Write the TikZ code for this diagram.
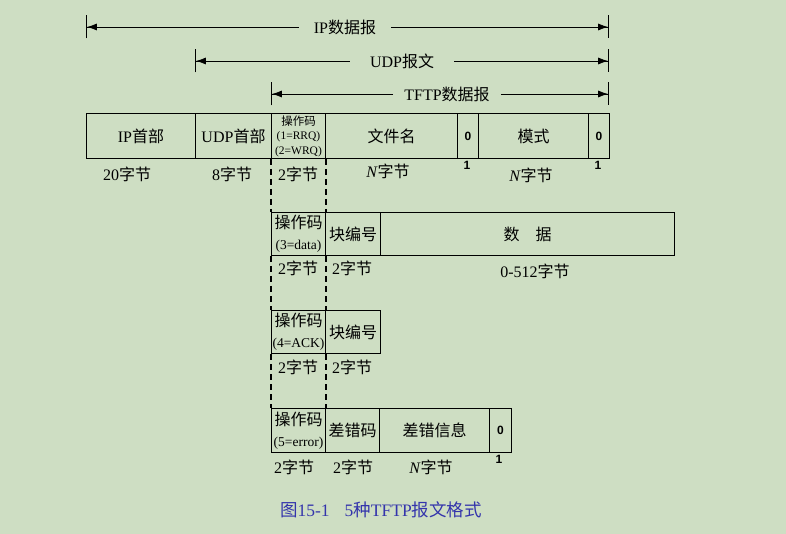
\documentclass[tikz,border=0pt]{standalone}
\usepackage{fontspec}
\setmainfont{Liberation Serif}
\newfontfamily\cjkfont{Noto Sans CJK SC}
\newfontfamily\digitfont{Liberation Sans}
\usetikzlibrary{arrows.meta}
\definecolor{bgcol}{RGB}{206,222,195}
\definecolor{capcol}{RGB}{52,52,172}
\newcommand{\zh}[1]{{\cjkfont #1}}

\begin{document}
\begin{tikzpicture}[x=1pt, y=-1pt,
	every node/.style={inner sep=0pt, font=\fontsize{16}{18}\selectfont},
	field/.style={draw=black, line width=1pt, rectangle, anchor=north west},
	row/.style={minimum height=#1},
	size/.style={anchor=center},
	zero/.style={font=\digitfont\bfseries\fontsize{12}{14}\selectfont},
	one/.style={font=\digitfont\bfseries\fontsize{12}{14}\selectfont},
	opbig/.style={align=center, font=\fontsize{16}{21}\selectfont},
	dimlbl/.style={inner xsep=15pt},
	dimline/.style={line width=0.8pt, -{Latex[length=10pt,width=7pt]Bar[width=23pt,line width=0.9pt]}},
	guide/.style={line width=1.1pt, dash pattern=on 6pt off 4pt}]
				\fill[bgcol] (0,0) rectangle (786,534);
				\useasboundingbox (0,0) rectangle (786,534);
				
				% dimension arrows
				\coordinate (ipL) at (86,27);
				\coordinate (ipR) at (609,27);
				\coordinate (udpL) at (195,61);
				\coordinate (udpR) at (609,61);
				\coordinate (tftpL) at (271,94);
				\coordinate (tftpR) at (609,94);
				\node[dimlbl, inner xsep=15pt] (iplbl) at (345,27){IP\zh{数据报}};
				\node[dimlbl, inner xsep=20pt] (udplbl) at (402,61){UDP\zh{报文}};
				\node[dimlbl, inner xsep=11pt] (tftplbl) at (447,94){TFTP\zh{数据报}};
				\path[dimline] (iplbl) edge (ipL);
				\path[dimline] (iplbl) edge (ipR);
				\path[dimline] (udplbl) edge (udpL);
				\path[dimline] (udplbl) edge (udpR);
				\path[dimline] (tftplbl) edge (tftpL);
				\path[dimline] (tftplbl) edge (tftpR);
				
				% RRQ / WRQ
				\node[field, row=45, minimum width=109] (ip) at (86,113){IP\zh{首部}};
				\node[field, row=45, minimum width=76] (udp) at (195,113){UDP\zh{首部}};
				\node[field, row=45, minimum width=54, align=center, font=\fontsize{11.5}{14.5}\selectfont] (op1) at (271,113){\zh{操作码}\\(1=RRQ)\\(2=WRQ)};
				\node[field, row=45, minimum width=132] (fname) at (325,113){\zh{文件名}};
				\node[field, row=45, minimum width=21, zero] (zA) at (457,113){0};
				\node[field, row=45, minimum width=110] (mode) at (478,113){\zh{模式}};
				\node[field, row=45, minimum width=21, zero] (zB) at (588,113){0};
				
				\node[size] (sip) at (127,174){20\zh{字节}};
				\node[size] (sudp) at (232,174){8\zh{字节}};
				\node[size] (sop1) at (298,174){2\zh{字节}};
				\node[size] (sfname) at (388,171){\textit{N}\zh{字节}};
				\node[size] (smode) at (531,175){\textit{N}\zh{字节}};
				\node[one] (oA) at (467,165){1};
				\node[one] (oB) at (598,165){1};
				
				% DATA
				\node[field, row=43, minimum width=54, opbig] (op2) at (271,212){\zh{操作码}\\{\fontsize{13.5}{21}\selectfont(3=data)}};
				\node[field, row=43, minimum width=55] (blk2) at (325,212){\zh{块编号}};
				\node[field, row=43, minimum width=294] (data) at (380,212){\zh{数\quad 据}};
				\node[size] (sop2) at (298,268){2\zh{字节}};
				\node[size] (sblk2) at (352,268){2\zh{字节}};
				\node[size] (sdata) at (535,271){0-512\zh{字节}};
				
				% ACK
				\node[field, row=43, minimum width=54, opbig] (op3) at (271,310){\zh{操作码}\\{\fontsize{13.5}{21}\selectfont(4=ACK)}};
				\node[field, row=43, minimum width=55] (blk3) at (325,310){\zh{块编号}};
				\node[size] (sop3) at (298,367){2\zh{字节}};
				\node[size] (sblk3) at (352,367){2\zh{字节}};
				
				% ERROR
				\node[field, row=44, minimum width=54, opbig] (op4) at (271,408){\zh{操作码}\\{\fontsize{13.5}{21}\selectfont(5=error)}};
				\node[field, row=44, minimum width=54] (ecode) at (325,408){\zh{差错码}};
				\node[field, row=44, minimum width=110] (emsg) at (379,408){\zh{差错信息}};
				\node[field, row=44, minimum width=22, zero] (zC) at (489,408){0};
				\node[size] (sop4) at (294,467){2\zh{字节}};
				\node[size] (secode) at (353,467){2\zh{字节}};
				\node[size] (semsg) at (431,467){\textit{N}\zh{字节}};
				\node[one] (oC) at (499,459){1};
				
				% opcode guides
				\path[guide] (op1.south west) edge (op2.north west);
				\path[guide] (op1.south east) edge (op2.north east);
				\path[guide] (op2.south west) edge (op3.north west);
				\path[guide] (op2.south east) edge (op3.north east);
				\path[guide] (op3.south west) edge (op4.north west);
				\path[guide] (op3.south east) edge (op4.north east);
				
				\node[text=capcol, font=\fontsize{17.5}{20}\selectfont] (caption) at (381,510){\zh{图}15-1\hspace{15pt}5\zh{种}TFTP\zh{报文格式}};
				\end{tikzpicture}
\end{document}
